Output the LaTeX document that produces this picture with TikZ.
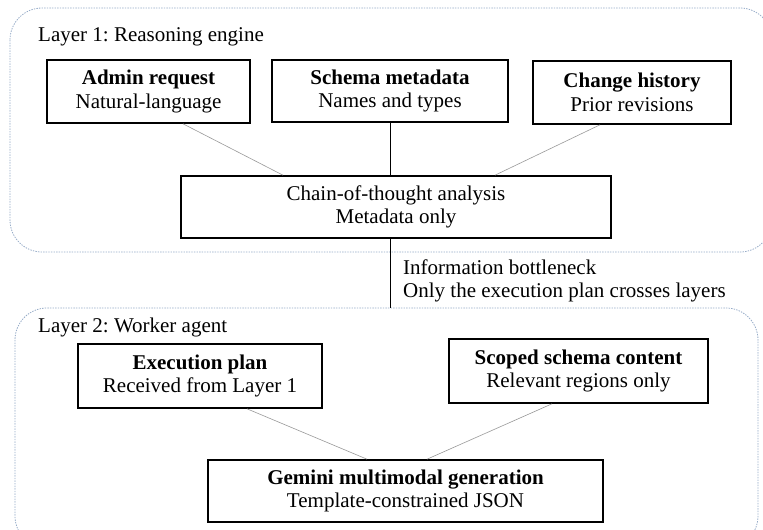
\documentclass[tikz,border=0pt]{standalone}
\usepackage{fontspec}
\setmainfont{Liberation Serif}
\usetikzlibrary{calc}
\frenchspacing
\definecolor{layerline}{RGB}{150,172,200}
\tikzset{
  layerbox/.style={draw=layerline, line width=0.8pt, dash pattern=on 1.4pt off 1.2pt, rounded corners=32pt},
  infobox/.style={draw=black, line width=1.6pt, fill=white, align=center, inner sep=0pt, font=\fontsize{21}{23.5}\selectfont},
  layerlabel/.style={anchor=base west, inner sep=0pt, font=\fontsize{21}{23}\selectfont, align=left},
  thinlink/.style={draw=gray!80, line width=0.6pt},
  mainlink/.style={draw=black, line width=1pt}
}
\begin{document}
\frenchspacing
\begin{tikzpicture}[x=1pt,y=-1pt]
\useasboundingbox (0,0) rectangle (763,530);
\clip (0,0) rectangle (763,530);
\fill[white] (0,0) rectangle (763,530);
% containers
\draw[layerbox] (10,8) rectangle (772,252);
\draw[layerbox] (15,308) rectangle (758,548);
\node[layerlabel] (l1) at (38,41) {Layer 1: Reasoning engine};
\node[layerlabel] (l2) at (38,332) {Layer 2: Worker agent};
% layer 1 boxes
\node[infobox, minimum width=203pt, minimum height=63pt] (admin) at (148.5,91.5) {\textbf{Admin request}\\Natural-language};
\node[infobox, minimum width=236pt, minimum height=62pt] (schema) at (390,91) {\textbf{Schema metadata}\\Names and types};
\node[infobox, minimum width=198pt, minimum height=63pt] (change) at (632,92.5) {\textbf{Change history}\\Prior revisions};
\node[infobox, minimum width=430pt, minimum height=62pt] (chain) at (396,207) {Chain-of-thought analysis\\Metadata only};
% layer 2 boxes
\node[infobox, minimum width=244pt, minimum height=64pt] (exec) at (200,376) {\textbf{Execution plan}\\Received from Layer 1};
\node[infobox, minimum width=259pt, minimum height=64pt] (scoped) at (578.5,371) {\textbf{Scoped schema content}\\Relevant regions only};
\node[infobox, minimum width=395pt, minimum height=62pt] (gemini) at (405.5,491) {\textbf{Gemini multimodal generation}\\Template-constrained JSON};
% bottleneck label (anchor is the baseline of the last line)
\node[layerlabel] (bottleneck) at (403,297) {Information bottleneck\\Only the execution plan crosses layers};
\coordinate (l2top) at (390,308);
% connectors
\draw[thinlink] ($(admin.south)+(34.5,0)$) -- ($(chain.north)+(-113,0)$);
\draw[mainlink] (schema.south) -- (schema.south |- chain.north);
\draw[thinlink] ($(change.south)+(-32,0)$) -- ($(chain.north)+(99,0)$);
\draw[mainlink] (chain.south -| l2top) -- (l2top);
\draw[thinlink] ($(exec.south)+(47,0)$) -- ($(gemini.north)+(-38.5,0)$);
\draw[thinlink] ($(scoped.south)+(-26.5,0)$) -- ($(gemini.north)+(21.5,0)$);
\end{tikzpicture}
\end{document}
